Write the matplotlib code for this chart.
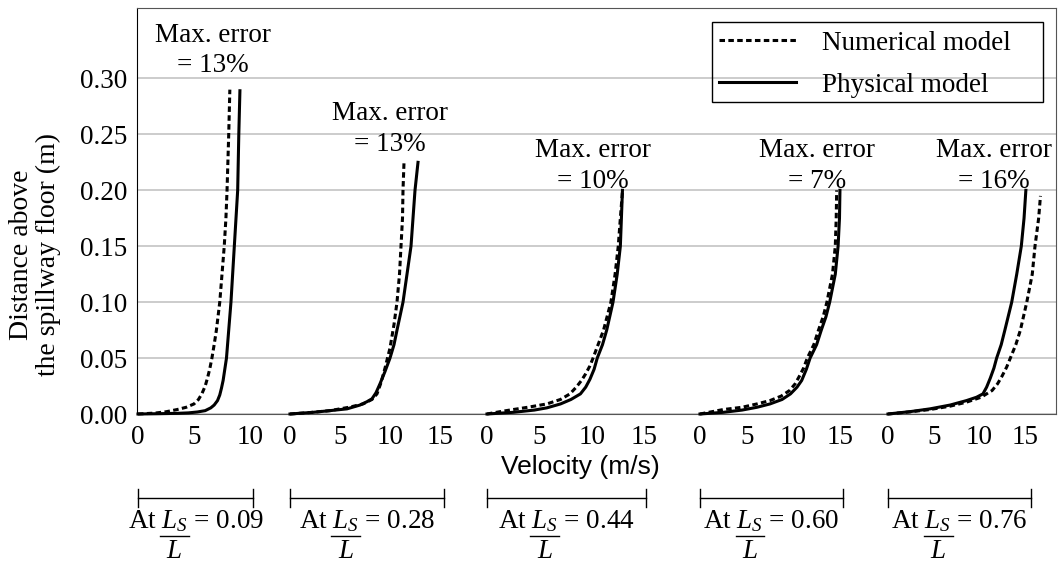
import matplotlib
matplotlib.use("Agg")
import matplotlib.pyplot as plt
from matplotlib.lines import Line2D
from matplotlib.patches import Rectangle
from matplotlib.transforms import IdentityTransform, blended_transform_factory

# data (velocity m/s, height m)
ratios = ["0.09", "0.28", "0.44", "0.60", "0.76"]
max_errors = [13, 13, 10, 7, 16]
tick_max = [10, 15, 15, 15, 15]

num_v_1 = [0.0, 1.5, 2.5, 3.5, 4.3, 5.0, 5.4, 5.7, 6.0, 6.2, 6.4, 6.6, 6.8, 7.0, 7.3, 7.5, 7.7, 7.85, 7.95, 8.1, 8.2]
num_h_1 = [0.0, 0.0008, 0.002, 0.004, 0.006, 0.009, 0.013, 0.018, 0.025, 0.032, 0.04, 0.05, 0.062, 0.075,
           0.10, 0.125, 0.15, 0.175, 0.20, 0.25, 0.29]
phys_v_1 = [0.0, 2.0, 3.5, 4.5, 5.3, 6.0, 6.5, 6.8, 7.1, 7.3, 7.45, 7.6, 7.75, 7.9, 8.1, 8.3, 8.45, 8.6,
            8.9, 9.0, 9.1]
phys_h_1 = [0.0, 0.0003, 0.0006, 0.001, 0.0018, 0.003, 0.0055, 0.008, 0.012, 0.017, 0.023, 0.03, 0.04,
            0.05, 0.075, 0.10, 0.125, 0.15, 0.20, 0.25, 0.289]

num_v_2 = [0.0, 2.0, 4.0, 6.0, 7.3, 8.2, 8.7, 9.1, 9.5, 10.0, 10.4, 10.7, 10.95, 11.1, 11.25, 11.3, 11.4]
num_h_2 = [0.0, 0.0013, 0.003, 0.0062, 0.009, 0.013, 0.018, 0.028, 0.041, 0.059, 0.08, 0.10, 0.125,
           0.15, 0.175, 0.20, 0.225]
phys_v_2 = [0.0, 2.3, 4.0, 5.7, 7.0, 7.7, 8.2, 8.6, 9.0, 9.5, 10.0, 10.4, 10.7, 11.3, 11.7, 12.1, 12.3,
            12.5, 12.8]
phys_h_2 = [0.0, 0.0015, 0.003, 0.0046, 0.008, 0.011, 0.0136, 0.019, 0.027, 0.038, 0.05, 0.062, 0.075,
            0.10, 0.125, 0.15, 0.175, 0.20, 0.225]

num_v_3 = [0.0, 1.5, 2.5, 4.0, 5.7, 7.0, 7.9, 8.5, 9.0, 9.4, 9.8, 10.1, 10.7, 11.1, 11.8, 12.2, 12.5,
           12.7, 12.9]
num_h_3 = [0.0, 0.0025, 0.004, 0.0062, 0.009, 0.013, 0.018, 0.024, 0.03, 0.036, 0.043, 0.05, 0.065,
           0.075, 0.10, 0.125, 0.15, 0.175, 0.199]
phys_v_3 = [0.0, 2.5, 4.5, 5.7, 7.0, 8.0, 8.9, 9.4, 9.8, 10.2, 10.5, 11.0, 11.4, 12.0, 12.4, 12.7,
            12.8, 12.9]
phys_h_3 = [0.0, 0.0015, 0.0035, 0.0055, 0.009, 0.013, 0.018, 0.024, 0.031, 0.04, 0.05, 0.062, 0.075,
            0.10, 0.125, 0.15, 0.175, 0.20]

num_v_4 = [0.0, 2.5, 4.5, 6.1, 7.5, 8.7, 9.6, 10.2, 10.6, 11.1, 11.5, 12.2, 12.7, 13.2, 13.6, 14.2,
           14.5, 14.6, 14.65]
num_h_4 = [0.0, 0.004, 0.006, 0.009, 0.012, 0.016, 0.021, 0.027, 0.033, 0.041, 0.05, 0.062, 0.075,
           0.087, 0.10, 0.125, 0.15, 0.175, 0.20]
phys_v_4 = [0.0, 2.5, 4.5, 6.1, 7.5, 8.8, 9.7, 10.4, 10.9, 11.4, 11.8, 12.5, 13.0, 13.5, 13.9, 14.5,
            14.8, 14.95, 15.0]
phys_h_4 = [0.0, 0.0015, 0.0035, 0.006, 0.009, 0.013, 0.018, 0.024, 0.03, 0.04, 0.05, 0.062, 0.075,
            0.087, 0.10, 0.125, 0.15, 0.175, 0.20]

num_v_5 = [0.0, 2.5, 4.6, 6.8, 8.6, 10.2, 11.4, 12.0, 12.5, 13.0, 13.4, 14.0, 14.5, 15.2, 15.8, 16.1,
           16.5, 16.7]
num_h_5 = [0.0, 0.002, 0.004, 0.007, 0.0106, 0.015, 0.021, 0.027, 0.034, 0.042, 0.05, 0.062, 0.075,
           0.10, 0.125, 0.15, 0.175, 0.195]
phys_v_5 = [0.0, 2.5, 4.6, 6.8, 8.6, 9.7, 10.4, 10.8, 11.2, 11.6, 11.9, 12.4, 12.8, 13.55, 14.1, 14.6,
            14.9, 15.1]
phys_h_5 = [0.0, 0.0022, 0.0046, 0.008, 0.012, 0.015, 0.018, 0.024, 0.032, 0.041, 0.05, 0.062, 0.075,
            0.10, 0.125, 0.15, 0.175, 0.20]

numerical = [(num_v_1, num_h_1), (num_v_2, num_h_2), (num_v_3, num_h_3),
             (num_v_4, num_h_4), (num_v_5, num_h_5)]
physical = [(phys_v_1, phys_h_1), (phys_v_2, phys_h_2), (phys_v_3, phys_h_3),
            (phys_v_4, phys_h_4), (phys_v_5, phys_h_5)]

# layout (pixels in a 1058x562 figure)
W, H = 1058, 562
ax_l, ax_r, ax_t, ax_b = 137, 1056, 8, 414
panel_left = [138, 290, 487, 700, 888]
panel_scale = [11.2, 10.0, 10.5, 9.33, 9.13]
panel_xmax = [11, 16.5, 16.5, 16.5, 17.5]
bracket_end = [10.3, 15.4, 15.1, 15.3, 15.7]
note_pos = [(6.7, 0.325), (10.0, 0.255), (10.1, 0.222), (12.5, 0.222), (11.6, 0.222)]
ylim = (0, 0.363)

serif = "Liberation Serif"
fs = 19.5
plt.rcParams["font.family"] = serif
plt.rcParams["mathtext.fontset"] = "custom"
plt.rcParams["mathtext.rm"] = serif
plt.rcParams["mathtext.it"] = serif + ":italic"

fig = plt.figure(figsize=(W / 100, H / 100), dpi=100)
ident = IdentityTransform()
ax = fig.add_axes([ax_l / W, 1 - ax_b / H, (ax_r - ax_l) / W, (ax_b - ax_t) / H])
ax.set_xlim(0, 1)
ax.set_ylim(*ylim)
ax.set_xticks([])
ax.set_yticks([0, 0.05, 0.10, 0.15, 0.20, 0.25, 0.30])
ax.set_yticklabels(["%.2f" % t for t in ax.get_yticks()], fontsize=fs)
ax.tick_params(axis="y", length=0, pad=7)
ax.grid(axis="y", color="#c4c4c4", lw=1.2)
ax.set_axisbelow(True)
for side in ["top", "right", "bottom"]:
    ax.spines[side].set_color("#555555")
ax.spines["left"].set_color("black")

dash = (0, (1.8, 1.1))
for i in range(5):
    x0 = panel_left[i]
    w = panel_scale[i] * panel_xmax[i]
    sub = fig.add_axes([x0 / W, 1 - ax_b / H, w / W, (ax_b - ax_t) / H])
    sub.patch.set_visible(False)
    for s in sub.spines.values():
        s.set_visible(False)
    sub.set_xlim(0, panel_xmax[i])
    sub.set_ylim(*ylim)
    sub.set_yticks([])
    sub.set_xticks(list(range(0, tick_max[i] + 1, 5)))
    sub.tick_params(axis="x", length=0, pad=8, labelsize=fs)

    v, h = numerical[i]
    sub.plot(v, h, color="black", lw=2.2, linestyle=dash, clip_on=False)
    v, h = physical[i]
    sub.plot(v, h, color="black", lw=2.2, clip_on=False)

    nx, ny = note_pos[i]
    sub.text(nx, ny, "Max. error\n= %d%%" % max_errors[i], ha="center", va="center",
             multialignment="center", fontsize=fs, linespacing=1.3)

    # bracket under the panel
    tr = blended_transform_factory(sub.transData, sub.transAxes)
    yb = -0.207
    sub.plot([0, bracket_end[i]], [yb, yb], color="black", lw=1, transform=tr, clip_on=False)
    for xe in [0, bracket_end[i]]:
        sub.plot([xe, xe], [yb - 0.022, yb + 0.022], color="black", lw=1, transform=tr, clip_on=False)

handles = [Line2D([], [], color="black", lw=2.2, linestyle=dash),
           Line2D([], [], color="black", lw=2.2)]
leg = ax.legend(handles, ["Numerical model", "Physical model"], loc="upper left",
                bbox_to_anchor=(716 / W, 1 - 28 / H), bbox_transform=fig.transFigure,
                fontsize=fs, frameon=False, handlelength=2.85, handletextpad=0.95,
                labelspacing=0.62, borderpad=0.1, borderaxespad=0)
leg.set_zorder(10)
fig.add_artist(Rectangle((712, H - 102), 331, 80, transform=ident, fill=False,
                         edgecolor="black", lw=1.0))

# ratio labels with a stacked L_S / L fraction
renderer = fig.canvas.get_renderer()
base_y = H - 528
for i in range(5):
    cx = panel_left[i] + panel_scale[i] * bracket_end[i] / 2
    full = fig.text(0, 0, "At $L_S$ = " + ratios[i], fontsize=fs, transform=ident)
    pre = fig.text(0, 0, "At $L_S$", fontsize=fs, transform=ident)
    ls = fig.text(0, 0, "$L_S$", fontsize=fs, transform=ident)
    w_full = full.get_window_extent(renderer).width
    w_pre = pre.get_window_extent(renderer).width
    w_ls = ls.get_window_extent(renderer).width
    pre.remove()
    ls.remove()
    x0 = cx - w_full / 2
    full.set_position((x0, base_y))
    full.set_va("baseline")
    a = x0 + w_pre - w_ls
    b = x0 + w_pre
    fig.add_artist(Line2D([a - 1, b + 1], [H - 536, H - 536], color="black", lw=1, transform=ident))
    fig.text((a + b) / 2, H - 558, "$L$", fontsize=fs, ha="center", va="baseline", transform=ident)

fig.text(580 / W, 1 - 467 / H, "Velocity (m/s)", fontsize=19, family="Liberation Sans",
         ha="center", va="center")
fig.text(35 / W, 1 - 255 / H, "Distance above\nthe spillway floor (m)", fontsize=20,
         rotation=90, ha="center", va="center", multialignment="center", linespacing=1.05)

fig.savefig("out.png", dpi=100)
